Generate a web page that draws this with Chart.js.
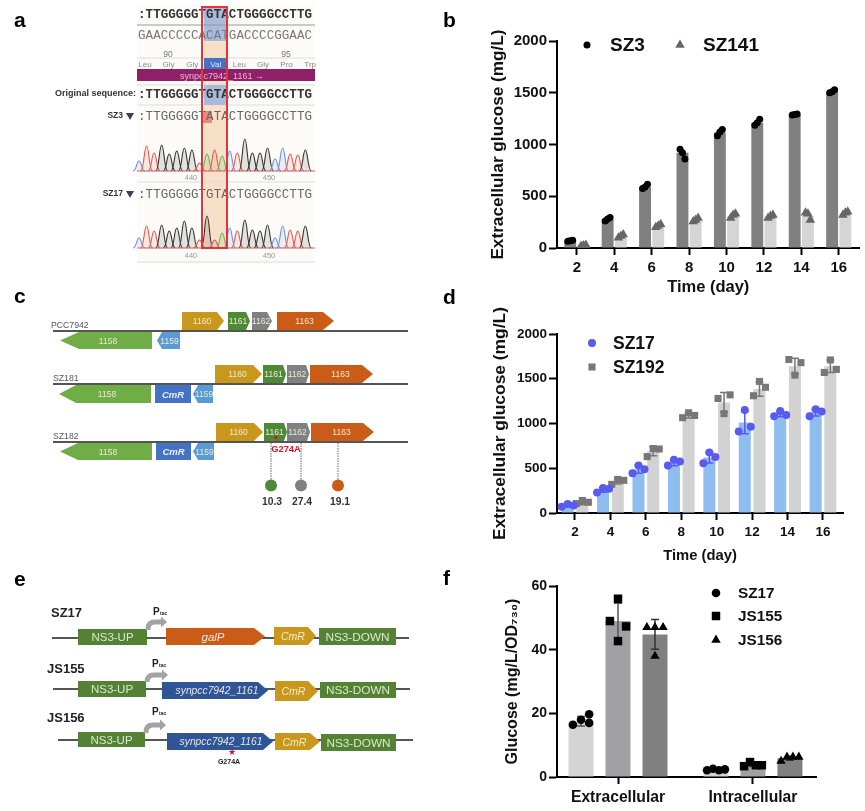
<!DOCTYPE html>
<html>
<head>
<meta charset="utf-8">
<title>Extracellular glucose panels</title>
<script src="https://cdn.jsdelivr.net/npm/chart.js@4/dist/chart.umd.min.js"></script>
<style>
html, body { margin: 0; background: #fff; overflow: hidden; }
#page { position: relative; width: 865px; height: 811px; }
#page canvas { position: absolute; filter: blur(0.4px); }
#art { position: absolute; left: 0; top: 0; filter: blur(0.4px); }
</style>
</head>
<body>
<div id="page">
  <svg id="art" width="865" height="811" font-family="Liberation Sans, Arial, sans-serif"></svg>
  <canvas id="chartB" width="381" height="280" style="left:484px;top:21px"></canvas>
  <canvas id="chartD" width="379" height="264" style="left:486px;top:305px"></canvas>
  <canvas id="chartF" width="366" height="237" style="left:499px;top:574px"></canvas>
</div>
<script>
// panel b
var days = [2, 4, 6, 8, 10, 12, 14, 16];
var sz3Mean = [70, 275, 590, 920, 1115, 1210, 1290, 1515];
var sz141Mean = [25, 115, 215, 270, 310, 310, 310, 335];
var sz3Reps = [[65,75,70],[262,295,280],[575,615,590],[955,860,920],[1085,1145,1120],[1185,1245,1210],[1285,1295,1290],[1500,1530,1510]];
var sz141Reps = [[20,30,25],[100,130,115],[200,230,215],[255,290,270],[290,330,320],[290,320,310],[340,270,330],[320,350,340]];

// panel d
var sz17Mean = [85, 260, 488, 560, 620, 1010, 1105, 1125];
var sz192Mean = [110, 355, 690, 1090, 1235, 1385, 1640, 1640];
var sz17Err = [15, 27, 43, 33, 60, 125, 30, 40];
var sz192Err = [18, 30, 50, 28, 110, 80, 90, 70];
var sz17Reps = [[70,100,85],[230,280,270],[445,530,490],[530,595,575],[555,675,625],[910,1150,965],[1080,1140,1095],[1080,1160,1135]];
var sz192Reps = [[105,140,120],[320,375,365],[630,720,715],[1065,1120,1090],[1280,1110,1320],[1310,1470,1405],[1715,1540,1680],[1570,1710,1605]];

// panel f
var groups = ["Extracellular", "Intracellular"];
var fSz17Mean = [17.5, 2.3];
var fJs155Mean = [49, 3.8];
var fJs156Mean = [44.8, 5.9];
var fSz17Err = [1.5, 0.2];
var fJs155Err = [5.6, 0.5];
var fJs156Err = [4.7, 0.6];
var fSz17Reps = [[16.4,18,19.7,17],[2.1,2.6,2.1,2.4]];
var fJs155Reps = [[49,56,47.3,42.7],[3.4,4.7,3.7,3.7]];
var fJs156Reps = [[47,47,47,38],[5,6.3,6.3,6.3]];

// panel a
var seqTop = ":TTGGGGGTGTACTGGGGCCTTG";
var seqBottom = "GAACCCCCACATGACCCCGGAAC";
var seqSz3 = ":TTGGGGGTATACTGGGGCCTTG";
var aminoNames = ["Leu", "Gly", "Gly", "Val", "Leu", "Gly", "Pro", "Trp"];
var traceBases1 = "CTTGGGGGTATACTGGGGCCTTG";
var traceBases2 = "CTTGGGGGTGTACTGGGGCCTTG";
var traceHeights1 = [10,25,18,26,17,20,23,21,8,17,21,15,20,18,32,18,18,23,12,23,17,16,21];
var traceHeights2 = [10,22,17,23,17,20,27,20,8,32,8,15,20,17,28,18,17,23,10,22,18,17,22];

Chart.defaults.font.family = '"Liberation Sans", Arial, sans-serif';
Chart.defaults.color = "#111";

function pairs(xs, ys, shift) {
  return xs.map(function (x, i) { return { x: x + shift, y: ys[i] }; });
}

// one dot per replicate, spread sideways around the bar
function dots(xs, reps, shift, spread) {
  var out = [];
  xs.forEach(function (x, i) {
    reps[i].forEach(function (v, k) {
      var s = Array.isArray(spread[0]) ? spread[i][k] : spread[k];
      out.push({ x: x + shift + s, y: v });
    });
  });
  return out;
}

function barSet(label, xs, ys, color, errs, errColor) {
  return { type: "bar", label: label, data: pairs(xs, ys, 0), backgroundColor: color, order: 1, errs: errs, errColor: errColor };
}

function dotSet(label, data, color, style, radius) {
  return { type: "scatter", label: label, data: data, backgroundColor: color, pointStyle: style, pointRadius: radius, pointBorderWidth: 0, order: 0 };
}

var errorBars = {
  id: "errorBars",
  afterDatasetDraw: function (chart, args) {
    var ds = chart.data.datasets[args.index];
    if (!ds.errs) return;
    var ctx = chart.ctx, y = chart.scales.y;
    ctx.save();
    ctx.strokeStyle = ds.errColor;
    ctx.lineWidth = 1.5;
    args.meta.data.forEach(function (bar, i) {
      var top = y.getPixelForValue(ds.data[i].y + ds.errs[i]);
      var low = y.getPixelForValue(ds.data[i].y - ds.errs[i]);
      ctx.beginPath();
      ctx.moveTo(bar.x, top); ctx.lineTo(bar.x, low);
      ctx.moveTo(bar.x - 4, top); ctx.lineTo(bar.x + 4, top);
      ctx.moveTo(bar.x - 4, low); ctx.lineTo(bar.x + 4, low);
      ctx.stroke();
    });
    ctx.restore();
  }
};

// legend sits inside the plot in these figures, so it is placed by hand
function legendMarks(items, fontSize) {
  return {
    id: "legendMarks",
    afterDraw: function (chart) {
      var ctx = chart.ctx;
      ctx.save();
      items.forEach(function (it) {
        var ds = chart.data.datasets[it.ds];
        ctx.fillStyle = ds.backgroundColor;
        Chart.helpers.drawPoint(ctx, { pointStyle: ds.pointStyle, rotation: 0, radius: ds.pointRadius, borderWidth: 0 }, it.x, it.y);
        ctx.fillStyle = "#111";
        ctx.font = "bold " + fontSize + 'px "Liberation Sans", Arial, sans-serif';
        ctx.textBaseline = "middle";
        ctx.fillText(ds.label, it.tx, it.y + 1);
      });
      ctx.restore();
    }
  };
}

function panel(id, p) {
  return new Chart(document.getElementById(id), {
    type: "bar",
    data: { datasets: p.datasets },
    plugins: [errorBars, legendMarks(p.legend, p.legendFont)],
    options: {
      responsive: false,
      animation: false,
      categoryPercentage: p.catPct,
      barPercentage: p.barPct,
      layout: { padding: { top: p.padTop, right: p.padRight, left: 0, bottom: 0 } },
      plugins: { legend: { display: false }, tooltip: { enabled: false } },
      scales: {
        x: {
          type: "linear",
          offset: false,
          min: p.xMin,
          max: p.xMax,
          afterBuildTicks: function (s) { s.ticks = p.tickAt.map(function (v) { return { value: v }; }); },
          afterFit: function (s) { s.height = p.xHeight; },
          grid: { offset: false, drawOnChartArea: false, color: "#000", tickLength: 7, tickWidth: 2 },
          border: { color: "#000", width: 2 },
          ticks: {
            autoSkip: false, maxRotation: 0, padding: p.xPad,
            font: { size: p.xFont, weight: "bold" },
            callback: function (v) { return p.tickText[p.tickAt.indexOf(v)]; }
          },
          title: { display: !!p.xTitle, text: p.xTitle, font: { size: p.xTitleFont, weight: "bold" } }
        },
        y: {
          min: 0,
          max: p.yMax,
          afterFit: function (s) { s.width = p.yWidth; },
          grid: { drawOnChartArea: false, color: "#000", tickLength: 8, tickWidth: 2 },
          border: { color: "#000", width: 2 },
          ticks: { stepSize: p.yStep, padding: 2, font: { size: p.yFont, weight: "bold" }, callback: function (v) { return String(v); } },
          title: { display: true, text: p.yTitle, font: { size: p.yTitleFont, weight: "bold" } }
        }
      }
    }
  });
}

var bSpread = [-0.13, 0.13, 0];
panel("chartB", {
  datasets: [
    dotSet("SZ3", dots(days, sz3Reps, -0.353, bSpread), "#000", "circle", 3.5),
    dotSet("SZ141", dots(days, sz141Reps, 0.353, bSpread), "#666", "triangle", 5.5),
    barSet("SZ3 mean", days, sz3Mean, "#808080"),
    barSet("SZ141 mean", days, sz141Mean, "#d5d5d5")
  ],
  legend: [{ ds: 0, x: 103, y: 24, tx: 126 }, { ds: 1, x: 196, y: 24, tx: 219 }],
  legendFont: 19, catPct: 0.707, barPct: 0.9,
  xMin: 0.94, xMax: 17.11, tickAt: days, tickText: days.map(String), padTop: 20, padRight: 3,
  xHeight: 53, xPad: 4, xFont: 15, xTitle: "Time (day)", xTitleFont: 16.5,
  yMax: 2000, yStep: 500, yWidth: 73, yFont: 15, yTitle: "Extracellular glucose (mg/L)", yTitleFont: 17.2
});

var dSpread = [-0.34, 0, 0.34];
panel("chartD", {
  datasets: [
    dotSet("SZ17", dots(days, sz17Reps, -0.415, dSpread), "#5a5af0", "circle", 4),
    dotSet("SZ192", dots(days, sz192Reps, 0.415, dSpread), "#777", "rect", 5),
    barSet("SZ17 mean", days, sz17Mean, "#8fbdf0", sz17Err, "#5a5af0"),
    barSet("SZ192 mean", days, sz192Mean, "#d2d2d2", sz192Err, "#777")
  ],
  legend: [{ ds: 0, x: 106, y: 38, tx: 127 }, { ds: 1, x: 106, y: 62, tx: 127 }],
  legendFont: 17.5, catPct: 0.83, barPct: 0.82,
  xMin: 0.984, xMax: 17.13, tickAt: days, tickText: days.map(String), padTop: 29, padRight: 22,
  xHeight: 56, xPad: 4, xFont: 13.5, xTitle: "Time (day)", xTitleFont: 14.8,
  yMax: 2000, yStep: 500, yWidth: 71, yFont: 13.5, yTitle: "Extracellular glucose (mg/L)", yTitleFont: 17.4
});

var groupAt = [1, 2];
var spreadLow = [-0.066, -0.022, 0.022, 0.066];
var spreadHigh = [-0.06, 0, 0.06, 0];
var spreadF = [spreadHigh, spreadLow];
panel("chartF", {
  datasets: [
    dotSet("SZ17", dots(groupAt, fSz17Reps, -0.274, [[-0.06,0,0.06,0.06], spreadLow]), "#000", "circle", 4.3),
    dotSet("JS155", dots(groupAt, fJs155Reps, 0, spreadF), "#000", "rect", 6),
    dotSet("JS156", dots(groupAt, fJs156Reps, 0.274, spreadF), "#000", "triangle", 5.4),
    barSet("SZ17 mean", groupAt, fSz17Mean, "#d4d4d4", fSz17Err, "#555"),
    barSet("JS155 mean", groupAt, fJs155Mean, "#a0a0a5", fJs155Err, "#555"),
    barSet("JS156 mean", groupAt, fJs156Mean, "#808080", fJs156Err, "#333")
  ],
  legend: [{ ds: 0, x: 217, y: 19, tx: 239 }, { ds: 1, x: 217, y: 42, tx: 239 }, { ds: 2, x: 217, y: 66, tx: 239 }],
  legendFont: 15.3, catPct: 0.822, barPct: 0.676,
  xMin: 0.548, xMax: 2.467, tickAt: groupAt, tickText: groups, padTop: 12, padRight: 49,
  xHeight: 34, xPad: 4, xFont: 15.7, xTitle: "", xTitleFont: 12,
  yMax: 60, yStep: 20, yWidth: 58, yFont: 14, yTitle: "Glucose (mg/L/OD₇₃₀)", yTitleFont: 16
});

// schematics a, c, e
var art = document.getElementById("art");
function el(tag, attrs, text) {
  var n = document.createElementNS("http://www.w3.org/2000/svg", tag);
  for (var k in attrs) n.setAttribute(k, attrs[k]);
  if (text !== undefined) n.textContent = text;
  art.appendChild(n);
  return n;
}
function label(x, y, text, size, fill, extra) {
  var a = { x: x, y: y, "font-size": size, fill: fill };
  for (var k in extra) a[k] = extra[k];
  return el("text", a, text);
}
function mid(x, y, text, size, fill, extra) {
  var a = { "text-anchor": "middle", "dominant-baseline": "central" };
  for (var k in extra) a[k] = extra[k];
  return label(x, y, text, size, fill, a);
}
function hline(x1, x2, y, color, w) {
  el("line", { x1: x1, x2: x2, y1: y, y2: y, stroke: color, "stroke-width": w });
}
function box(x1, x2, y1, y2, fill) {
  el("rect", { x: x1, y: y1, width: x2 - x1, height: y2 - y1, fill: fill });
}
function geneR(x1, x2, head, y1, y2, fill) {
  el("polygon", { points: [x1, y1, head, y1, x2, (y1 + y2) / 2, head, y2, x1, y2].join(","), fill: fill });
}
function geneL(tip, x2, head, y1, y2, fill) {
  el("polygon", { points: [tip, (y1 + y2) / 2, head, y1, x2, y1, x2, y2, head, y2].join(","), fill: fill });
}

[["a", 14, 27], ["b", 443, 27], ["c", 14, 303], ["d", 443, 304], ["e", 14, 586], ["f", 443, 585]].forEach(function (p) {
  label(p[1], p[2], p[0], 21, "#000", { "font-weight": "bold" });
});

// --- a: sequencing view
box(137, 315, 5, 265, "#fdfbf7");
box(204, 226, 8, 41, "#a9bbdc");
box(204, 226, 41, 248, "#f8dfc8");
function seq(y, text, weight, fill) {
  label(138, y, text, 12.5, fill, { "font-family": "Liberation Mono, monospace", "font-weight": weight, textLength: 174, lengthAdjust: "spacing", "dominant-baseline": "central" });
}
seq(15, seqTop, "bold", "#333");
hline(137, 315, 25, "#999", 1);
seq(36, seqBottom, "normal", "#777");
hline(137, 315, 58, "#ddd", 1);
mid(168, 54, "90", 8.5, "#777");
mid(286, 54, "95", 8.5, "#777");
aminoNames.forEach(function (n, i) {
  var x = 145 + i * 23.6;
  if (n === "Val") box(204, 226, 58, 69, "#4472c4");
  mid(x, 64, n, 8, n === "Val" ? "#dfe8fa" : "#888");
});
box(137, 315, 69, 81, "#8f1f66");
mid(222, 75.5, "synpcc7942_1161 →", 9, "#f2b5d5");
hline(137, 315, 85, "#ddd", 1);
hline(137, 315, 105, "#ddd", 1);
box(204, 226, 85, 105, "#a9bbdc");
label(136, 93, "Original sequence:", 9, "#333", { "font-weight": "bold", "text-anchor": "end", "dominant-baseline": "central" });
seq(95, seqTop, "bold", "#333");
box(203, 212, 111, 123, "#ee8a78");
label(123, 115, "SZ3", 8.5, "#333", { "font-weight": "bold", "text-anchor": "end", "dominant-baseline": "central" });
el("polygon", { points: "126,113 134,113 130,120", fill: "#3b4256" });
seq(117, seqSz3, "normal", "#666");
label(123, 193, "SZ17", 8.5, "#333", { "font-weight": "bold", "text-anchor": "end", "dominant-baseline": "central" });
el("polygon", { points: "126,191 134,191 130,198", fill: "#3b4256" });
seq(195, seqTop, "normal", "#666");

var baseColor = { G: "#333", T: "#e05a55", A: "#5cb85c", C: "#6d8fe0" };
function trace(base, bases, heights) {
  heights.forEach(function (h, i) {
    var x = 139 + i * 7.56, top = base - h;
    el("path", {
      d: "M" + (x - 6) + " " + base + " C" + (x - 2.5) + " " + base + " " + (x - 2.5) + " " + top + " " + x + " " + top +
         " C" + (x + 2.5) + " " + top + " " + (x + 2.5) + " " + base + " " + (x + 6) + " " + base,
      stroke: baseColor[bases[i]], "stroke-width": 1.1, fill: baseColor[bases[i]], "fill-opacity": 0.12
    });
  });
  hline(137, 315, base, "#c66", 1.2);
}
trace(171, traceBases1, traceHeights1);
trace(248, traceBases2, traceHeights2);
mid(191, 177.5, "440", 7.5, "#999");
mid(269, 177.5, "450", 7.5, "#999");
mid(191, 255, "440", 7.5, "#999");
mid(269, 255, "450", 7.5, "#999");
hline(137, 315, 182, "#ddd", 1);
hline(137, 315, 262, "#ddd", 1);
el("rect", { x: 202, y: 7, width: 25, height: 241, fill: "none", stroke: "#e0353a", "stroke-width": 2 });

// --- c: gene clusters
var yellow = "#c9971c", dkGreen = "#4e8a36", grey = "#808080", orange = "#cb5c17";
var ltGreen = "#70ad47", ltBlue = "#5b9bd5", cmBlue = "#4472c4", geneText = "#ece9d8";
var clusterRows = [
  { name: "PCC7942", nx: 51, ny: 328, line: 331, up: [312, 330], low: [332, 349], lineX: 53,
    g: [[182,224,217], [228,250,246], [252,272,267], [277,334,323]], l1158: [60,152,79], l1159: [157,180,162] },
  { name: "SZ181", nx: 53, ny: 381, line: 384, up: [365, 383], low: [385, 403], lineX: 53, cm: [155,191],
    g: [[215,262,253], [263,286,283], [287,309,306], [310,373,362]], l1158: [59,151,76], l1159: [193,213,198] },
  { name: "SZ182", nx: 53, ny: 439, line: 442, up: [423, 441], low: [443, 460], lineX: 53, cm: [156,191],
    g: [[216,263,254], [264,287,284], [287,310,307], [311,374,363]], l1158: [60,152,78], l1159: [193,214,198] }
];
var upNames = ["1160", "1161", "1162", "1163"];
var upColors = [yellow, dkGreen, grey, orange];
clusterRows.forEach(function (r) {
  hline(r.lineX, 408, r.line, "#555", 2);
  label(r.nx, r.ny, r.name, 8.7, "#555");
  r.g.forEach(function (g, i) {
    geneR(g[0], g[1], g[2], r.up[0], r.up[1], upColors[i]);
    mid((g[0] + g[1]) / 2 - 1, (r.up[0] + r.up[1]) / 2, upNames[i], 8.5, geneText);
  });
  var cy = (r.low[0] + r.low[1]) / 2;
  geneL(r.l1158[0], r.l1158[1], r.l1158[2], r.low[0], r.low[1], ltGreen);
  mid((r.l1158[0] + r.l1158[1]) / 2 + 2, cy, "1158", 8.5, geneText);
  if (r.cm) {
    box(r.cm[0], r.cm[1], r.low[0], r.low[1], cmBlue);
    mid((r.cm[0] + r.cm[1]) / 2, cy, "CmR", 9.5, "#e8eefb", { "font-style": "italic", "font-weight": "bold" });
  }
  geneL(r.l1159[0], r.l1159[1], r.l1159[2], r.low[0], r.low[1], ltBlue);
  mid((r.l1159[0] + r.l1159[1]) / 2 + 1, cy, "1159", 8.5, geneText);
});
el("circle", { cx: 276, cy: 437.5, r: 1.8, fill: "#e0102a" });
mid(286, 448.5, "G274A", 9.3, "#e0102a", { "font-weight": "bold" });
[[271, dkGreen, "10.3", 272], [301, grey, "27.4", 302], [338, orange, "19.1", 340]].forEach(function (m) {
  el("line", { x1: m[0], x2: m[0], y1: 443, y2: 481, stroke: "#666", "stroke-width": 1, "stroke-dasharray": "1.5 1" });
  el("circle", { cx: m[0], cy: 485.5, r: 6, fill: m[1] });
  mid(m[3], 501, m[2], 10.3, "#333", { "font-weight": "bold" });
});

// --- e: constructs
var nsGreen = "#548235", nsText = "#dbe8cc", deepBlue = "#2f5597";
var constructs = [
  { name: "SZ17", nx: 51, ny: 617, line: 638, lx: [52, 409], up: [78,147,629,645], arrow: [148,622,167], px: 153, py: 615,
    gene: [166,265,254,628,645,orange,"galP",213], cm: [274,316,308,627,645], down: [319,396,628,645] },
  { name: "JS155", nx: 47, ny: 673, line: 689, lx: [53, 410], up: [78,146,681,697], arrow: [147,675,168], px: 152, py: 667,
    gene: [162,268,258,682,699,deepBlue,"synpcc7942_1161",217], cm: [275,318,308,681,701], down: [320,396,682,698] },
  { name: "JS156", nx: 47, ny: 722, line: 740, lx: [58, 413], up: [78,145,732,747], arrow: [146,725,166], px: 152, py: 715,
    gene: [167,273,263,733,750,deepBlue,"synpcc7942_1161",221], cm: [275,320,310,733,750], down: [321,396,734,751] }
];
constructs.forEach(function (c) {
  hline(c.lx[0], c.lx[1], c.line, "#555", 1.8);
  label(c.nx, c.ny, c.name, 13, "#222", { "font-weight": "bold" });
  box(c.up[0], c.up[1], c.up[2], c.up[3], nsGreen);
  mid((c.up[0] + c.up[1]) / 2, (c.up[2] + c.up[3]) / 2, "NS3-UP", 11.5, nsText);
  var a = c.arrow;
  el("path", { d: "M" + a[0] + " " + (c.up[2] + 1) + " V" + (a[1] + 7) + " Q" + a[0] + " " + a[1] + " " + (a[0] + 7) + " " + a[1] + " H" + (a[2] - 5), fill: "none", stroke: "#a3a3a3", "stroke-width": 5 });
  el("polygon", { points: [a[2] - 6, a[1] - 5.5, a[2], a[1], a[2] - 6, a[1] + 5.5].join(","), fill: "#a3a3a3" });
  label(c.px, c.py, "P", 10, "#222", { "font-weight": "bold" });
  label(c.px + 7, c.py, "tac", 5, "#222", { "font-weight": "bold" });
  var g = c.gene;
  geneR(g[0], g[1], g[2], g[3], g[4], g[5]);
  mid(g[7], (g[3] + g[4]) / 2, g[6], g[6] === "galP" ? 11.5 : 10.3, "#e6e6e6", { "font-style": "italic" });
  geneR(c.cm[0], c.cm[1], c.cm[2], c.cm[3], c.cm[4], yellow);
  mid((c.cm[0] + c.cm[2]) / 2 + 2, (c.cm[3] + c.cm[4]) / 2, "CmR", 10.5, "#f4ecd2", { "font-style": "italic" });
  box(c.down[0], c.down[1], c.down[2], c.down[3], nsGreen);
  mid((c.down[0] + c.down[1]) / 2, (c.down[2] + c.down[3]) / 2, "NS3-DOWN", 11.8, nsText);
});
mid(232, 752, "★", 9, "#e0102a");
mid(229, 761, "G274A", 7, "#222", { "font-weight": "bold" });
</script>
</body>
</html>
